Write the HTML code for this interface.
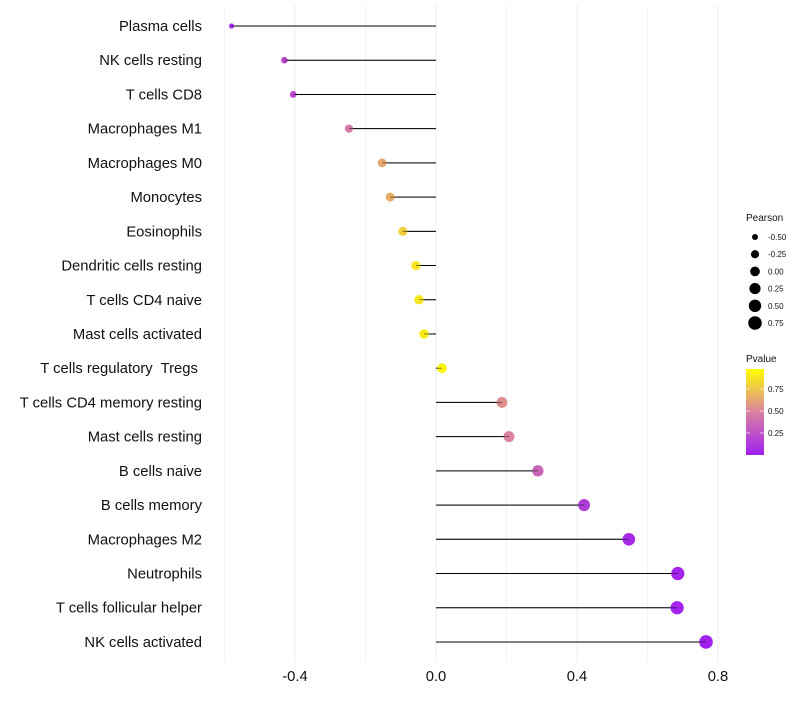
<!DOCTYPE html>
<html><head><meta charset="utf-8"><style>
body{margin:0;background:#fff;font-family:"Liberation Sans",sans-serif}
text{white-space:pre}
</style></head><body>
<svg id="chart" width="800" height="700" xmlns="http://www.w3.org/2000/svg" font-family="Liberation Sans, sans-serif">
<g id="grid"></g>
<g id="marks"></g>
<g id="ylabels"></g>
<g id="xlabels"></g>
<g id="legend"></g>
</svg>
<script>
const categories=["Plasma cells","NK cells resting","T cells CD8","Macrophages M1","Macrophages M0","Monocytes","Eosinophils","Dendritic cells resting","T cells CD4 naive","Mast cells activated","T cells regulatory  Tregs ","T cells CD4 memory resting","Mast cells resting","B cells naive","B cells memory","Macrophages M2","Neutrophils","T cells follicular helper","NK cells activated"];
const pearson=[-0.58,-0.43,-0.405,-0.247,-0.153,-0.13,-0.094,-0.057,-0.048,-0.034,0.017,0.187,0.207,0.289,0.42,0.547,0.686,0.684,0.766];
const pvalue=[0.05,0.2,0.22,0.45,0.65,0.68,0.8,0.9,0.9,0.92,0.95,0.55,0.5,0.35,0.15,0.05,0.02,0.02,0.01];
const xTicks=[-0.4,0.0,0.4,0.8];
const xMinor=[-0.6,-0.2,0.2,0.6];
const legendSizes=[-0.5,-0.25,0,0.25,0.5,0.75];
const legendP=[0.75,0.5,0.25];
const NS="http://www.w3.org/2000/svg";
const x=v=>436+v*352.5;
const y=i=>26+i*34.22;
const r=v=>Math.sqrt(Math.max(2.5,23.8+29.6*v));
function lerp(a,b,t){return a.map((c,i)=>Math.round(c+(b[i]-c)*t));}
function col(p){const s=[[160,32,240],[218,130,160],[255,255,0]];
 const c=p<0.5?lerp(s[0],s[1],p/0.5):lerp(s[1],s[2],(p-0.5)/0.5);return `rgb(${c})`;}
function mk(t,a,parent){const e=document.createElementNS(NS,t);for(const k in a)e.setAttribute(k,a[k]);parent.appendChild(e);return e;}
const G=document.getElementById('grid'),M=document.getElementById('marks'),YL=document.getElementById('ylabels'),XL=document.getElementById('xlabels'),L=document.getElementById('legend');
xMinor.forEach(v=>{const l=mk('line',{x1:x(v),x2:x(v),y1:5,y2:662,stroke:'#f4f4f4','stroke-width':1},G);

});
xTicks.forEach(v=>{const l=mk('line',{x1:x(v),x2:x(v),y1:5,y2:662,stroke:'#ededed','stroke-width':1},G);


const t=mk('text',{x:x(v),y:681,'text-anchor':'middle','font-size':14.8,fill:'#111'},XL);t.textContent=v.toFixed(1);

});
categories.forEach((c,i)=>{
 const t=mk('text',{x:202,y:y(i)+5,'text-anchor':'end','font-size':14.8,fill:'#111'},YL);t.textContent=c;
 
 
 const l=mk('line',{x1:x(0),x2:x(pearson[i]),y1:y(i),y2:y(i),stroke:'#000','stroke-width':1},M);
 
 
 const d=mk('circle',{cx:x(pearson[i]),cy:y(i),r:r(pearson[i]),fill:col(pvalue[i])},M);
 
 
 mk('line',{x1:x(0),x2:x(pearson[i]),y1:y(i),y2:y(i),stroke:'#000','stroke-width':0.8,'stroke-opacity':0.6},M);
});
let t=mk('text',{x:746,y:221,'font-size':10,fill:'#111'},L);t.textContent='Pearson';


legendSizes.forEach((v,i)=>{const yy=237+i*17.2;
 const c=mk('circle',{cx:755,cy:yy,r:r(v),fill:'#000'},L);
 
 
 const tt=mk('text',{x:768,y:yy+3,'font-size':8,fill:'#111'},L);tt.textContent=v.toFixed(2);
 
 });
t=mk('text',{x:746,y:362,'font-size':10,fill:'#111'},L);t.textContent='Pvalue';


const defs=mk('defs',{},L);const g=mk('linearGradient',{id:'pg',x1:0,y1:1,x2:0,y2:0},defs);
for(let k=0;k<=10;k++)mk('stop',{offset:k/10,'stop-color':col(k/10)},g);
const bar=mk('rect',{x:746,y:369,width:18,height:86,fill:'url(#pg)'},L);


legendP.forEach(p=>{const yy=455-p*88;
 mk('line',{x1:746,x2:750,y1:yy,y2:yy,stroke:'#fff','stroke-opacity':0.6},L);
 mk('line',{x1:760,x2:764,y1:yy,y2:yy,stroke:'#fff','stroke-opacity':0.6},L);
 const tt=mk('text',{x:768,y:yy+3,'font-size':8,fill:'#111'},L);tt.textContent=p.toFixed(2);
 
 });
</script>
</body></html>
